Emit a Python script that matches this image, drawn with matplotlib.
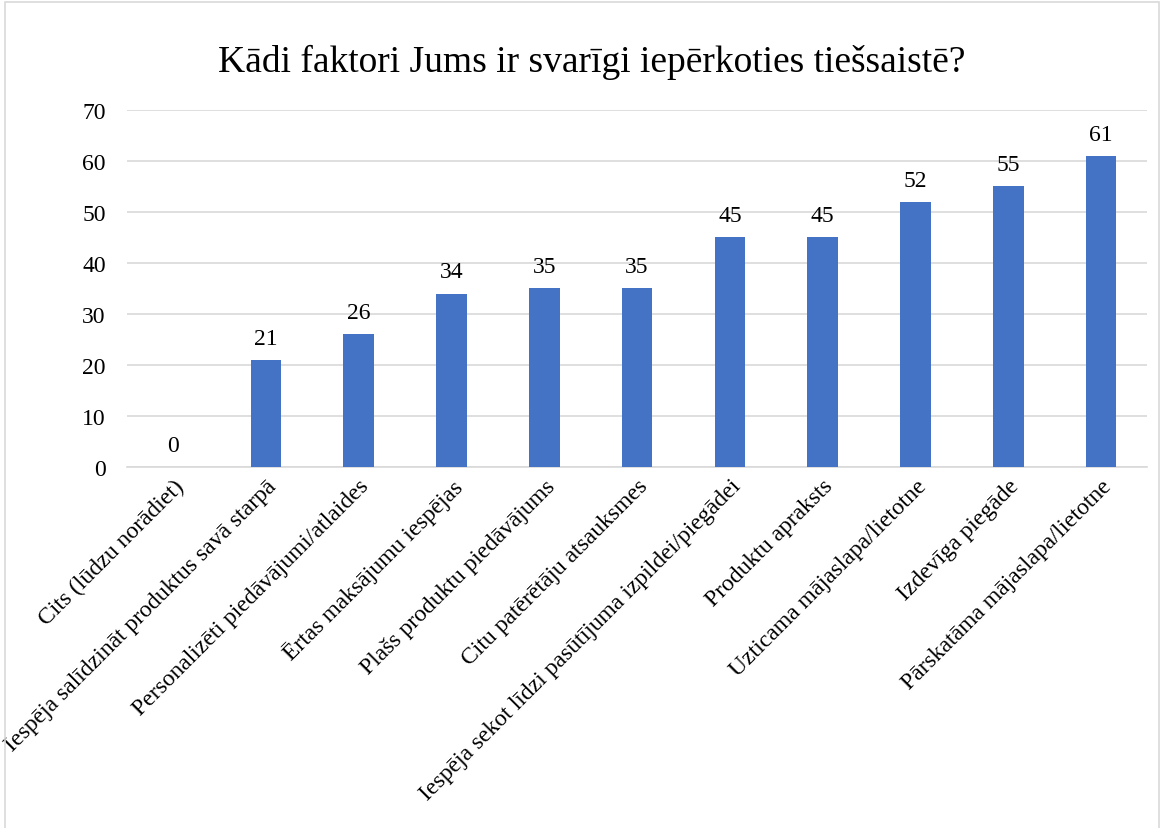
import matplotlib.pyplot as plt
from matplotlib.patches import Rectangle

# Data
categories = [
    'Cits (lūdzu norādiet)',
    'Iespēja salīdzināt produktus savā starpā',
    'Personalizēti piedāvājumi/atlaides',
    'Ērtas maksājumu iespējas',
    'Plašs produktu piedāvājums',
    'Citu patērētāju atsauksmes',
    'Iespēja sekot līdzi pasūtījuma izpildei/piegādei',
    'Produktu apraksts',
    'Uzticama mājaslapa/lietotne',
    'Izdevīga piegāde',
    'Pārskatāma mājaslapa/lietotne',
]
values = [0, 21, 26, 34, 35, 35, 45, 45, 52, 55, 61]
yticks = [0, 10, 20, 30, 40, 50, 60, 70]

plt.rcParams['font.family'] = ['Liberation Serif', 'DejaVu Serif']

fig = plt.figure(figsize=(11.64, 8.29), dpi=100)
ax = fig.add_axes([0.1088, 0.4355, 0.877, 0.4306])

x = range(len(categories))
bars = ax.bar(x, values, width=0.33, color='#4472C4', zorder=3)

# value labels above bars
for i, v in enumerate(values):
    ax.annotate(str(v), (i, v), xytext=(0, 8), textcoords='offset points',
                ha='center', va='bottom', fontsize=17)

ax.set_xlim(-0.5, len(categories) - 0.5)
ax.set_ylim(0, 70)
ax.set_yticks(yticks)
ax.grid(axis='y', color='#d9d9d9', linewidth=1.2, zorder=0)
ax.tick_params(axis='y', length=0, labelsize=17, pad=15)
ax.tick_params(axis='x', length=0, pad=6)
ax.set_xticks(list(x))
ax.set_xticklabels(categories, rotation=45, ha='right', rotation_mode='anchor', fontsize=17)

for side in ['top', 'right', 'left']:
    ax.spines[side].set_visible(False)
ax.spines['bottom'].set_color('#d9d9d9')
ax.spines['bottom'].set_linewidth(1.2)

fig.text(0.508, 0.925, 'Kādi faktori Jums ir svarīgi iepērkoties tiešsaistē?',
         fontsize=27, ha='center', va='center')

# chart area border
fig.patches.append(Rectangle((0.004, -0.01), 0.992, 1.006, transform=fig.transFigure,
                             fill=False, edgecolor='#d9d9d9', linewidth=1.2))

fig.savefig('out.png', dpi=100)
